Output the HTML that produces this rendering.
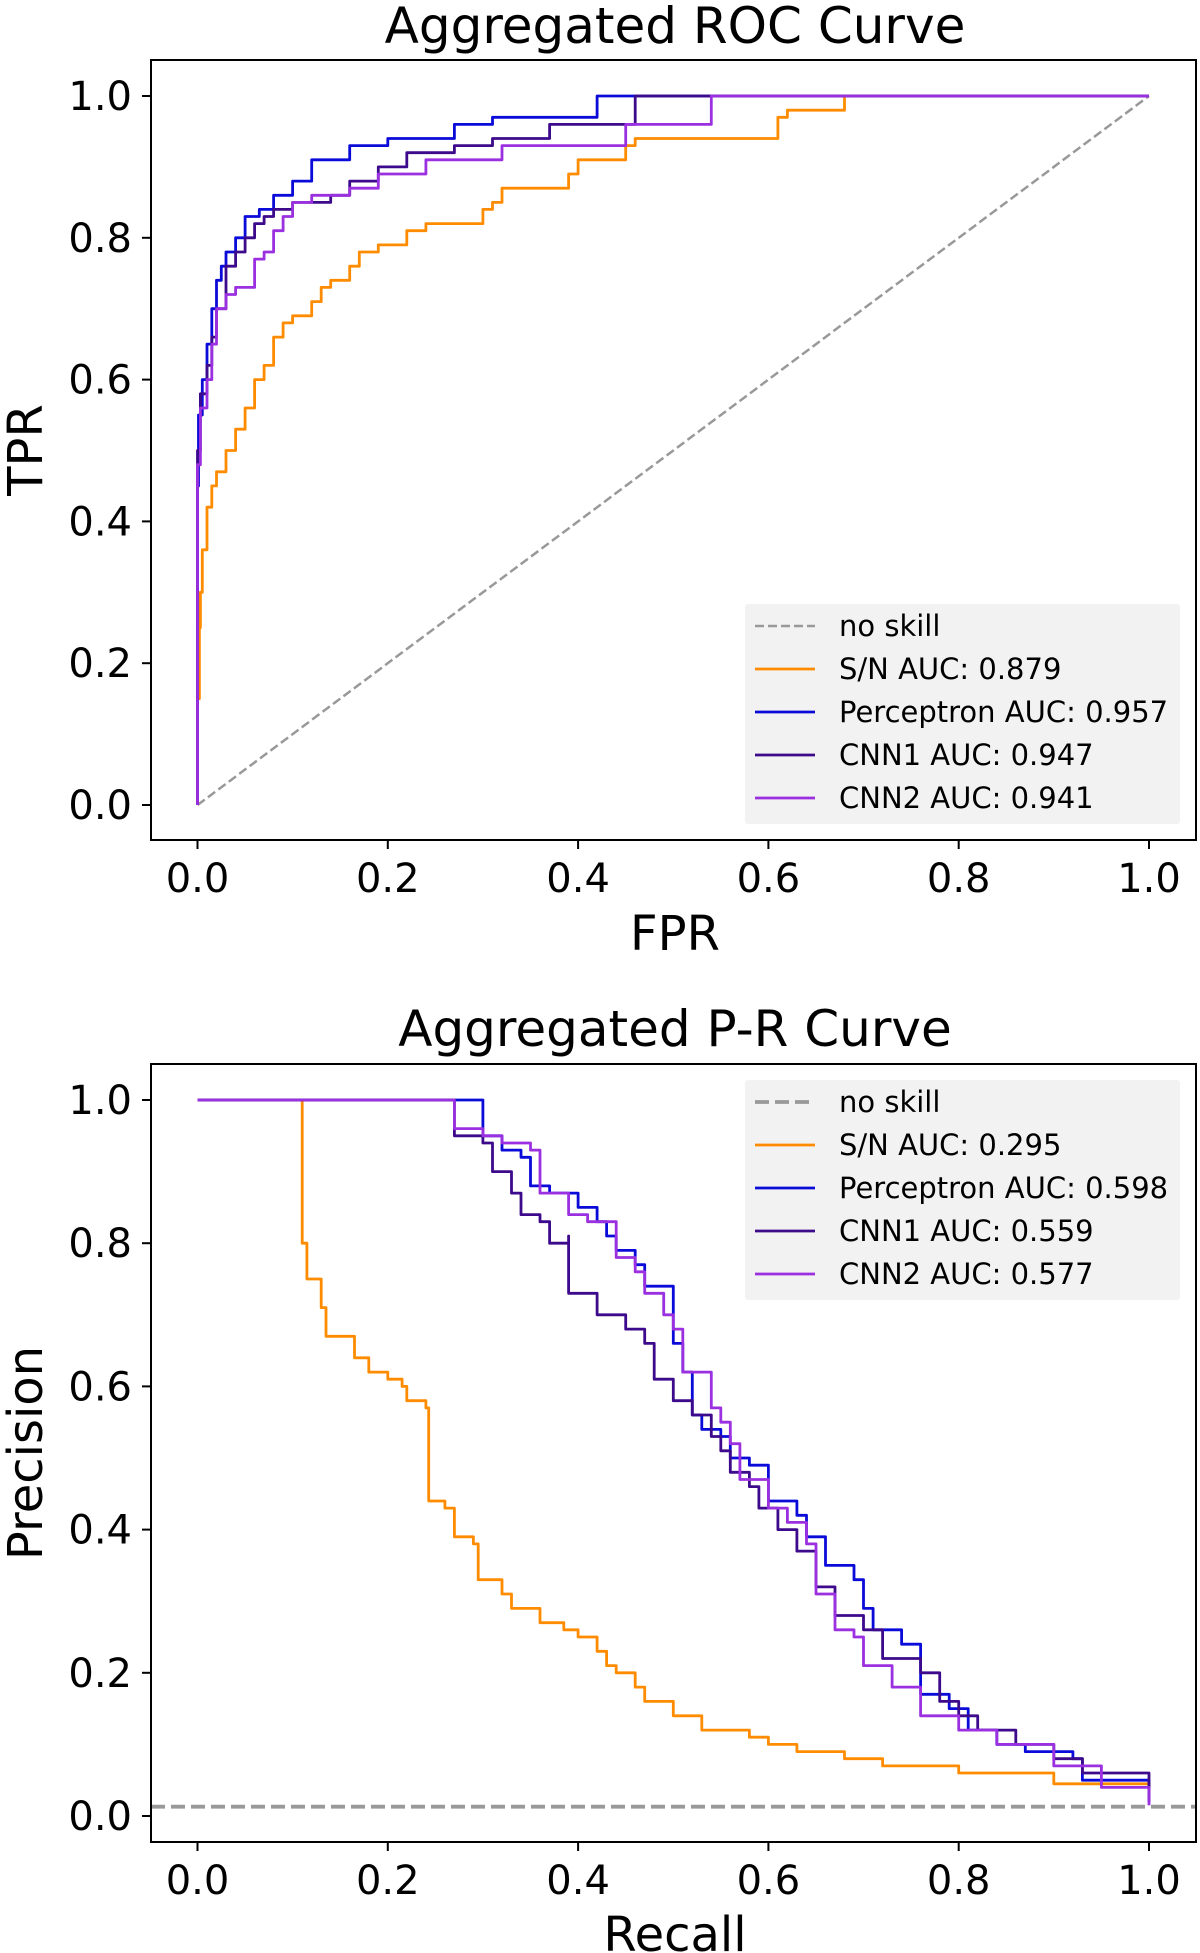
<!DOCTYPE html>
<html><head><meta charset="utf-8"><style>
html,body{margin:0;padding:0;background:#fff;}
svg{display:block;font-family:"DejaVu Sans","Liberation Sans",sans-serif;}
</style></head><body>
<svg id="fig" width="1200" height="1953" viewBox="0 0 1200 1953"></svg>
<script>
const ticks = [0, 0.2, 0.4, 0.6, 0.8, 1.0];
const tickLabels = ["0.0","0.2","0.4","0.6","0.8","1.0"];
const rocNames = ["S/N AUC: 0.879","Perceptron AUC: 0.957","CNN1 AUC: 0.947","CNN2 AUC: 0.941"];
const prNames = ["S/N AUC: 0.295","Perceptron AUC: 0.598","CNN1 AUC: 0.559","CNN2 AUC: 0.577"];
const rocSN_x = [0,0.002,0.003,0.005,0.01,0.015,0.02,0.03,0.04,0.05,0.06,0.07,0.08,0.09,0.1,0.12,0.13,0.14,0.16,0.17,0.19,0.22,0.24,0.3,0.31,0.32,0.35,0.39,0.4,0.45,0.46,0.61,0.62,0.68,0.68,1];
const rocSN_y = [0,0.15,0.25,0.3,0.36,0.42,0.45,0.47,0.5,0.53,0.56,0.6,0.62,0.66,0.68,0.69,0.71,0.73,0.74,0.76,0.78,0.79,0.81,0.82,0.84,0.85,0.87,0.87,0.89,0.91,0.93,0.94,0.97,0.98,1,1];
const rocP_x = [0,0.001,0.005,0.01,0.015,0.02,0.025,0.03,0.04,0.05,0.065,0.08,0.1,0.12,0.16,0.2,0.27,0.31,0.42,0.42,1];
const rocP_y = [0,0.45,0.55,0.6,0.65,0.7,0.74,0.76,0.78,0.8,0.83,0.84,0.86,0.88,0.91,0.93,0.94,0.96,0.97,1,1];
const rocC1_x = [0,0.003,0.01,0.015,0.02,0.03,0.04,0.05,0.06,0.07,0.08,0.1,0.14,0.16,0.19,0.22,0.27,0.31,0.37,0.46,0.47,1];
const rocC1_y = [0,0.5,0.58,0.62,0.66,0.7,0.76,0.78,0.8,0.82,0.83,0.84,0.85,0.86,0.88,0.9,0.92,0.93,0.94,0.96,1,1];
const rocC2_x = [0,0.003,0.01,0.015,0.02,0.03,0.04,0.06,0.07,0.08,0.09,0.1,0.12,0.16,0.19,0.24,0.32,0.37,0.45,0.54,0.54,1];
const rocC2_y = [0,0.48,0.56,0.6,0.65,0.7,0.72,0.73,0.77,0.78,0.81,0.83,0.85,0.86,0.87,0.89,0.91,0.93,0.93,0.96,1,1];
const prSN_x = [0,0.11,0.11,0.115,0.13,0.135,0.16,0.165,0.18,0.2,0.215,0.22,0.24,0.243,0.26,0.27,0.29,0.295,0.32,0.33,0.36,0.385,0.4,0.42,0.43,0.44,0.46,0.47,0.5,0.53,0.58,0.6,0.63,0.68,0.72,0.8,0.9,1];
const prSN_y = [1,1,0.8,0.75,0.71,0.67,0.67,0.64,0.62,0.61,0.6,0.58,0.57,0.44,0.43,0.39,0.38,0.33,0.31,0.29,0.27,0.26,0.25,0.23,0.21,0.2,0.18,0.16,0.14,0.12,0.11,0.1,0.09,0.08,0.07,0.06,0.045,0.03];
const prP_x = [0,0.3,0.3,0.32,0.34,0.35,0.37,0.4,0.42,0.43,0.44,0.46,0.47,0.5,0.5,0.51,0.52,0.53,0.55,0.56,0.58,0.6,0.6,0.63,0.64,0.66,0.69,0.7,0.71,0.74,0.76,0.79,0.81,0.84,0.87,0.92,0.93,1];
const prP_y = [1,1,0.95,0.93,0.92,0.88,0.87,0.85,0.83,0.81,0.79,0.77,0.74,0.7,0.66,0.62,0.56,0.54,0.53,0.5,0.49,0.47,0.44,0.42,0.39,0.35,0.33,0.29,0.26,0.24,0.17,0.15,0.12,0.1,0.09,0.08,0.05,0.02];
const prC1_x = [0,0.27,0.27,0.3,0.31,0.33,0.34,0.36,0.37,0.39,0.39,0.42,0.45,0.47,0.48,0.5,0.52,0.54,0.55,0.56,0.58,0.59,0.61,0.63,0.65,0.67,0.7,0.72,0.76,0.78,0.8,0.82,0.86,0.9,0.93,1];
const prC1_y = [1,1,0.95,0.94,0.9,0.87,0.84,0.83,0.8,0.81,0.73,0.7,0.68,0.66,0.61,0.58,0.56,0.53,0.51,0.48,0.46,0.43,0.4,0.37,0.32,0.28,0.26,0.22,0.2,0.16,0.14,0.12,0.1,0.08,0.06,0.02];
const prC2_x = [0,0.27,0.27,0.3,0.32,0.35,0.36,0.39,0.39,0.41,0.44,0.46,0.47,0.49,0.5,0.51,0.54,0.54,0.55,0.56,0.57,0.6,0.62,0.64,0.65,0.67,0.69,0.7,0.73,0.76,0.8,0.84,0.9,0.95,1];
const prC2_y = [1,1,0.96,0.95,0.94,0.93,0.87,0.86,0.84,0.83,0.78,0.76,0.73,0.7,0.68,0.62,0.61,0.57,0.55,0.52,0.47,0.43,0.41,0.38,0.31,0.26,0.25,0.21,0.18,0.14,0.12,0.1,0.07,0.04,0.015];
const prNoSkill = 0.013;

const colors = ["#ff8c00","#0b0bd9","#3d0a8c","#9b30e0"];
const NS = "http://www.w3.org/2000/svg";
const svg = document.getElementById("fig");
function mk(tag, attrs, parent){const e=document.createElementNS(NS,tag);for(const k in attrs)e.setAttribute(k,attrs[k]);(parent||svg).appendChild(e);return e;}

function panel(cfg){
  const g = mk("g",{});
  
  
  const X0=197.5,X1=1149,Y0=cfg.y0,Y1=cfg.y1;
  const sx=v=>X0+v*(X1-X0), sy=v=>Y0+v*(Y1-Y0);
  const t=mk("text",{x:675,y:cfg.titleY,"text-anchor":"middle","font-size":50,fill:"#000"},g);t.textContent=cfg.title;
  
  ticks.forEach((v,i)=>{
    mk("line",{x1:sx(v),x2:sx(v),y1:cfg.boxB,y2:cfg.boxB+9,stroke:"#000","stroke-width":2},g);
    const xt=mk("text",{x:sx(v),y:cfg.boxB+52,"text-anchor":"middle","font-size":40},g);xt.textContent=tickLabels[i];
    
    mk("line",{x1:151,x2:142,y1:sy(v),y2:sy(v),stroke:"#000","stroke-width":2},g);
    const yt=mk("text",{x:132,y:sy(v)+14,"text-anchor":"end","font-size":40},g);yt.textContent=tickLabels[i];
    
  });
  const xl=mk("text",{x:675,y:cfg.xlabY,"text-anchor":"middle","font-size":48},g);xl.textContent=cfg.xlab;
  
  const yc=(cfg.boxT+cfg.boxB)/2;
  const yl=mk("text",{x:0,y:0,"text-anchor":"middle","font-size":48,transform:`translate(42,${yc}) rotate(-90)`},g);yl.textContent=cfg.ylab;
  
  let ns;
  if(cfg.diag) ns=mk("line",{x1:sx(0),y1:sy(0),x2:sx(1),y2:sy(1),stroke:"#999","stroke-width":2.5,"stroke-dasharray":"9,4"},g);
  else ns=mk("line",{x1:151,y1:sy(prNoSkill),x2:1196,y2:sy(prNoSkill),stroke:"#999","stroke-width":3.8,"stroke-dasharray":"14,6"},g);
  
  cfg.series.forEach((s,i)=>{
    const xs=s[0], ys=s[1];
    let pts=[sx(xs[0]).toFixed(1)+","+sy(ys[0]).toFixed(1)];
    for(let j=1;j<xs.length;j++){
      if(cfg.diag) pts.push(sx(xs[j-1]).toFixed(1)+","+sy(ys[j]).toFixed(1));
      else pts.push(sx(xs[j]).toFixed(1)+","+sy(ys[j-1]).toFixed(1));
      pts.push(sx(xs[j]).toFixed(1)+","+sy(ys[j]).toFixed(1));
    }
    const p=mk("polyline",{points:pts.join(" "),fill:"none",stroke:colors[i],"stroke-width":2.8,"stroke-linejoin":"round"},g);
    
  });
  mk("rect",{x:151,y:cfg.boxT,width:1045,height:cfg.boxB-cfg.boxT,fill:"none",stroke:"#000","stroke-width":2},g);
  const lg=mk("g",{},g);
  
  const L=cfg.legT;
  mk("rect",{x:745,y:L,width:435,height:220,fill:"#f2f2f2",rx:3},lg);
  const rows=[["no skill","#999"]].concat(cfg.names.map((n,i)=>[n,colors[i]]));
  rows.forEach((r,i)=>{
    const y=L+22+i*43;
    const e=mk("g",{},lg);
    
    mk("line",{x1:755,x2:815,y1:y,y2:y,stroke:r[1],"stroke-width":i==0?(cfg.diag?2.5:3.8):2.8,"stroke-dasharray":i==0?(cfg.diag?"9,4":"14,6"):"none"},e);
    const tx=mk("text",{x:839,y:y+10,"font-size":29},e);tx.textContent=r[0];
  });
}
panel({name:"roc-chart",title:"Aggregated ROC Curve",titleY:43,y0:805,y1:96,boxT:60,boxB:840,xlab:"FPR",ylab:"TPR",xlabY:950,diag:true,legT:604,names:rocNames,
  series:[[rocSN_x,rocSN_y,"roc-sn-line"],[rocP_x,rocP_y,"roc-perceptron-line"],[rocC1_x,rocC1_y,"roc-cnn1-line"],[rocC2_x,rocC2_y,"roc-cnn2-line"]]});
panel({name:"pr-chart",title:"Aggregated P-R Curve",titleY:1046,y0:1816,y1:1100,boxT:1064,boxB:1842,xlab:"Recall",ylab:"Precision",xlabY:1951,diag:false,legT:1080,names:prNames,
  series:[[prSN_x,prSN_y,"pr-sn-line"],[prP_x,prP_y,"pr-perceptron-line"],[prC1_x,prC1_y,"pr-cnn1-line"],[prC2_x,prC2_y,"pr-cnn2-line"]]});
</script>
</body></html>
